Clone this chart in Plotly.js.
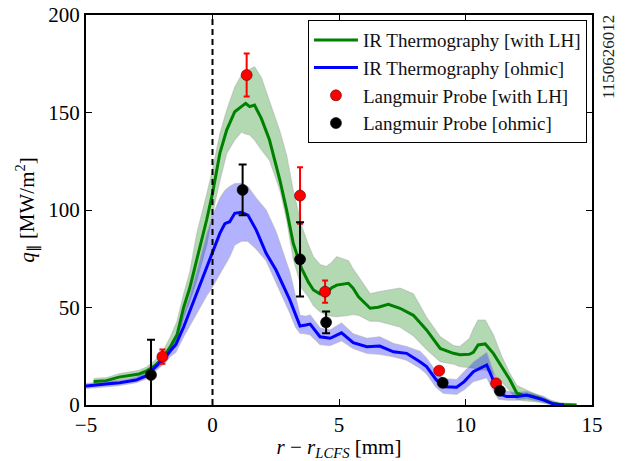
<!DOCTYPE html>
<html>
<head>
<meta charset="utf-8">
<script src="https://cdn.plot.ly/plotly-3.0.1.min.js"></script>
<style>
  html, body { margin: 0; padding: 0; background: #fff; }
  #chart { width: 629px; height: 461px; }
</style>
</head>
<body>
<div id="chart"></div>
<script>
// Parallel heat flux profile vs. distance from the LCFS (shot 1150626012)

// IR thermography, with LH heating: radial position [mm], mean and spread [MW/m^2]
const irLhR = [-4.7, -4.2, -3.7, -3.3, -2.9, -2.6, -2.3, -2.0, -1.66, -1.4, -1.14, -0.9, -0.62, -0.23, 0, 0.29, 0.56, 0.88, 1.14, 1.31, 1.47, 1.66, 1.93, 2.25, 2.67, 2.93, 3.19, 3.52, 3.79, 3.99, 4.25, 4.51, 4.7, 4.91, 5.37, 5.55, 5.77, 6.23, 6.55, 6.95, 7.41, 7.94, 8.46, 9.0, 9.52, 9.78, 10.15, 10.31, 10.5, 10.78, 11.1, 11.43, 11.76, 12.03, 12.27, 12.61, 12.95, 13.34, 13.73, 14.39];
const irLhQ = [12.0, 12.5, 14.3, 15.2, 15.9, 17.5, 20.0, 23.5, 30, 36, 50, 60, 74, 95, 108.5, 129, 141, 150.4, 153, 154.7, 153, 153.8, 147, 136, 115, 100, 83, 70, 63, 59, 57, 57.5, 60, 61.5, 62.4, 60, 55.5, 49.6, 50.1, 51.6, 49.6, 46, 38.5, 29, 26.5, 25.8, 26, 27, 30.8, 31.3, 26.5, 19.7, 12.8, 6, 5.1, 4.6, 3.4, 1.2, 0.3, 0];
const irLhHi = [13.5, 14, 16, 17, 17.8, 19.5, 22.5, 26.5, 35, 43, 57, 68, 88, 108, 120.5, 139, 151, 163, 169, 171, 172, 173.5, 168, 156, 140, 128, 110, 92, 82, 76, 72, 71, 73, 76, 74, 70, 66, 57, 58, 59, 60, 57, 45, 35, 30.5, 30, 34, 39, 43.6, 43.6, 36, 25, 16, 10, 8.5, 6.5, 4.5, 2.5, 1.2, 0.3];
const irLhLo = [10.8, 11, 12.8, 13.5, 14.2, 15.8, 18, 21, 27, 31, 45, 53, 64, 82, 98, 115, 129, 136, 140, 139, 138.5, 136, 131, 125.6, 110, 95, 75, 60, 55.5, 51, 47.8, 46, 45.5, 45.3, 46, 46.5, 46, 43, 43, 41.5, 40, 35.5, 28.5, 22.2, 21, 19.7, 19, 19, 18, 18, 16, 12, 7, 3, 2.2, 2, 1.5, 0.3, 0, 0];

// IR thermography, ohmic
const irOhR = [-5.0, -4.45, -4.0, -3.67, -3.3, -3.02, -2.62, -2.23, -1.84, -1.66, -1.45, -1.14, -0.93, -0.62, -0.23, 0, 0.29, 0.49, 0.68, 0.88, 1.14, 1.4, 1.73, 2.12, 2.51, 3.06, 3.28, 3.46, 3.69, 3.86, 4.25, 4.65, 5.1, 5.56, 6.1, 6.61, 7.15, 7.67, 8.2, 8.46, 8.84, 9.13, 9.65, 9.95, 10.31, 10.84, 11.04, 11.3, 11.63, 12.03, 12.42, 13.08, 13.48, 13.89];
const irOhQ = [9.7, 10.6, 11.0, 11.4, 12.0, 12.8, 14.9, 19.7, 24.8, 28, 31, 40, 47, 57, 71, 78.6, 88, 93, 94, 98.3, 98.8, 97.4, 89.7, 77.8, 69.2, 53.8, 46, 40.5, 41, 41.5, 35, 34.2, 37, 32, 29.9, 30.2, 27.3, 26.5, 22.2, 19.7, 13, 9.4, 9.1, 12, 17.1, 20.5, 14.5, 6, 4.3, 4.3, 5.1, 2.6, 0.5, 0];
const irOhHi = [11, 12, 12.5, 12.8, 13.4, 14.3, 16.5, 21.5, 27.5, 31, 36, 47, 55, 69, 88, 97, 106, 110, 112, 113.5, 113.7, 112, 106, 100, 89, 68, 55, 46, 45.5, 46.2, 39.5, 38.5, 42, 36.5, 34.2, 35, 31.6, 30, 27.5, 24, 17, 13.5, 13, 17, 22, 27, 20, 10, 7, 6.5, 7, 4.5, 1.5, 0.2];
const irOhLo = [8.5, 9.3, 9.6, 10, 10.6, 11.4, 13.3, 17.8, 22, 25, 27, 35, 40, 47, 56, 60.7, 67, 72, 76, 82, 84, 84, 80, 74, 63, 47, 40, 36.8, 36.5, 36, 31, 30.5, 33, 29, 26.5, 26, 24.8, 23, 18.8, 16, 9, 6, 5.5, 8, 12, 14, 9, 3, 2.5, 2.5, 3, 1, 0, 0];

// Langmuir probe measurements with error
const lpLhR = [-1.98, 1.35, 3.46, 4.45, 8.96, 11.21];
const lpLhQ = [24.8, 169.2, 107.4, 58.1, 17.6, 11.1];
const lpLhErr = [3.7, 11, 14.5, 5.7, 1, 1];

const lpOhR = [-2.43, 1.19, 3.46, 4.49, 9.1, 11.36];
const lpOhQ = [15.4, 110.3, 74.7, 42.4, 11.4, 7.3];
const lpOhErr = [18, 13, 19, 5.6, 1, 1];

const legendNames = ['IR Thermography [with LH]', 'IR Thermography [ohmic]', 'Langmuir Probe [with LH]', 'Langmuir Probe [ohmic]'];

const serif = 'Liberation Serif';
const edge = 'rgba(175,175,175,0.55)';

function band(r, lo, hi, fill) {
  return [
    { x: r, y: lo, type: 'scatter', mode: 'lines', line: { color: edge, width: 1.2 },
      showlegend: false, hoverinfo: 'skip' },
    { x: r, y: hi, type: 'scatter', mode: 'lines', line: { color: edge, width: 1.2 },
      fill: 'tonexty', fillcolor: fill, showlegend: false, hoverinfo: 'skip' }
  ];
}

const traces = [
  ...band(irLhR, irLhLo, irLhHi, 'rgba(0,128,0,0.3)'),
  ...band(irOhR, irOhLo, irOhHi, 'rgba(0,0,255,0.3)'),
  { x: irLhR, y: irLhQ, type: 'scatter', mode: 'lines', name: legendNames[0],
    legendgroup: 'a', line: { color: '#008000', width: 3 } },
  { x: irOhR, y: irOhQ, type: 'scatter', mode: 'lines', name: legendNames[1],
    legendgroup: 'b', line: { color: '#0000ff', width: 3 } },
  { x: lpLhR, y: lpLhQ, type: 'scatter', mode: 'markers', name: legendNames[2],
    legendgroup: 'c',
    marker: { color: '#ff0000', size: 11, line: { color: '#550000', width: 0.6 } },
    error_y: { type: 'data', array: lpLhErr, visible: true, color: '#ff0000', thickness: 2, width: 3 } },
  { x: lpOhR, y: lpOhQ, type: 'scatter', mode: 'markers', name: legendNames[3],
    legendgroup: 'd',
    marker: { color: '#000000', size: 11, line: { color: '#000000', width: 0.6 } },
    error_y: { type: 'data', array: lpOhErr, visible: true, color: '#000000', thickness: 2, width: 4 } }
];

const axisCommon = {
  showgrid: false, zeroline: false,
  showline: true, linecolor: '#000', linewidth: 2, mirror: 'allticks',
  ticks: 'inside', ticklen: 6, tickwidth: 1, tickcolor: '#000',
  tickfont: { family: serif, size: 21, color: '#000' }
};

const layout = {
  width: 629, height: 461,
  margin: { l: 86, r: 37, t: 15, b: 56 },
  paper_bgcolor: '#fff', plot_bgcolor: '#fff',
  font: { family: serif, color: '#000' },
  xaxis: Object.assign({}, axisCommon, {
    range: [-5, 15], dtick: 5, tick0: 0,
    title: { text: '<i>r</i> − <i>r</i><sub><i>LCFS</i></sub> [mm]', font: { family: serif, size: 21 }, standoff: 6 }
  }),
  yaxis: Object.assign({}, axisCommon, {
    range: [0, 200], dtick: 50, tick0: 0,
    title: { text: '<i>q</i><sub>∥</sub> [MW/m<sup>2</sup>]', font: { family: serif, size: 21 }, standoff: 8 }
  }),
  shapes: [
    { type: 'line', xref: 'x', yref: 'paper', x0: 0, x1: 0, y0: 0, y1: 1,
      line: { color: '#000', width: 2, dash: '6px,4px' } }
  ],
  annotations: [
    { text: '1150626012', xref: 'paper', yref: 'paper', x: 1, y: 1.005, xshift: 16,
      xanchor: 'center', yanchor: 'top', textangle: -90, showarrow: false,
      font: { family: serif, size: 17, color: '#222' } }
  ],
  showlegend: true,
  legend: {
    x: 0.99, y: 0.987, xanchor: 'right', yanchor: 'top',
    bgcolor: '#fff', bordercolor: '#000', borderwidth: 1,
    font: { family: serif, size: 19, color: '#111' },
    traceorder: 'grouped', tracegroupgap: 0, itemwidth: 44
  }
};

Plotly.newPlot('chart', traces, layout, { displayModeBar: false, staticPlot: true });
</script>
</body>
</html>
